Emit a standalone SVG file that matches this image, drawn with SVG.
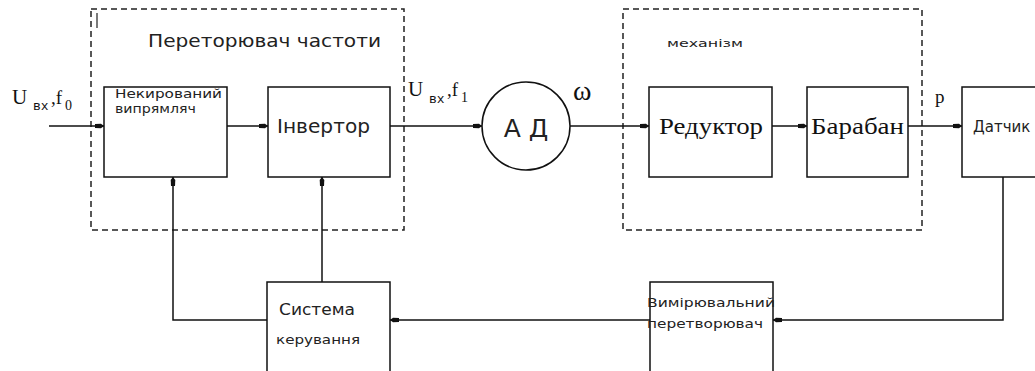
<svg xmlns="http://www.w3.org/2000/svg" width="1035" height="371" viewBox="0 0 1035 371">
  <style>
    .box { fill: #fff; stroke: #111; stroke-width: 1.5; }
    .frame { fill: none; stroke: #222; stroke-width: 1.5; stroke-dasharray: 6 4; }
    .wire { fill: none; stroke: #111; stroke-width: 1.5; }
    .sans { font-family: "DejaVu Sans", "Open Sans", sans-serif; fill: #222; }
    .serif { font-family: "Liberation Serif", "DejaVu Serif", serif; fill: #111; }
    .sub { font-family: "Liberation Mono", "DejaVu Sans Mono", monospace; fill: #111; font-size: 13px; }
  </style>
  <defs>
    <marker id="arrow" markerUnits="userSpaceOnUse" viewBox="-10 -4 11 8" refX="0" refY="0" markerWidth="11" markerHeight="8" orient="auto">
      <path d="M0,0 L-3,-2.3 L-9,-2 L-9,2 L-3,2.3 Z" fill="#111"/>
    </marker>
  </defs>

  <rect width="1035" height="371" fill="#fff"/>

  <!-- dashed frames -->
  <g id="frame-converter">
    <rect class="frame" x="91" y="9" width="313" height="221"/>
    <line x1="97" y1="13" x2="97" y2="28" stroke="#222" stroke-width="1.2"/>
    <text class="sans" x="148" y="47" font-size="17" textLength="233" lengthAdjust="spacingAndGlyphs">Переторювач частоти</text>
  </g>
  <g id="frame-mechanism">
    <rect class="frame" x="623" y="9" width="299" height="221"/>
    <text class="sans" x="667" y="47" font-size="11" textLength="76" lengthAdjust="spacingAndGlyphs">механізм</text>
  </g>

  <!-- connectors -->
  <g id="connectors">
    <line class="wire" x1="49" y1="126" x2="104" y2="126" marker-end="url(#arrow)"/>
    <line class="wire" x1="227" y1="126" x2="268" y2="126" marker-end="url(#arrow)"/>
    <line class="wire" x1="390" y1="126" x2="482" y2="126" marker-end="url(#arrow)"/>
    <line class="wire" x1="570" y1="126" x2="649" y2="126" marker-end="url(#arrow)"/>
    <line class="wire" x1="772" y1="126" x2="807" y2="126" marker-end="url(#arrow)"/>
    <line class="wire" x1="908" y1="126" x2="962" y2="126" marker-end="url(#arrow)"/>
    <polyline class="wire" points="1003,177 1003,320 773,320" marker-end="url(#arrow)"/>
    <line class="wire" x1="650" y1="320" x2="390" y2="320" marker-end="url(#arrow)"/>
    <polyline class="wire" points="267,320 173,320 173,177" marker-end="url(#arrow)"/>
    <line class="wire" x1="322" y1="282" x2="322" y2="177" marker-end="url(#arrow)"/>
  </g>

  <!-- signal labels -->
  <g id="labels">
    <text class="serif" x="12" y="104" font-size="21">U</text>
    <text class="sub" x="33" y="110">вх</text>
    <text class="serif" x="51" y="104" font-size="19">,f</text>
    <text class="serif" x="65" y="110" font-size="14">0</text>

    <text class="serif" x="408" y="96" font-size="21">U</text>
    <text class="sub" x="429" y="103">вх</text>
    <text class="serif" x="447" y="96" font-size="19">,f</text>
    <text class="serif" x="461" y="102" font-size="14">1</text>

    <text class="serif" x="573" y="100" font-size="28">ω</text>
    <text class="serif" x="935" y="103" font-size="19">p</text>
  </g>

  <g id="node-rectifier">
    <rect class="box" x="104" y="87" width="123" height="90"/>
    <text class="sans" x="115" y="98" font-size="13" textLength="107" lengthAdjust="spacingAndGlyphs">Некирований</text>
    <text class="sans" x="115" y="113" font-size="13" textLength="81" lengthAdjust="spacingAndGlyphs">випрямляч</text>
  </g>

  <g id="node-inverter">
    <rect class="box" x="268" y="87" width="122" height="90"/>
    <text class="sans" x="277" y="133" font-size="19" textLength="93" lengthAdjust="spacingAndGlyphs">Інвертор</text>
  </g>

  <g id="node-motor">
    <circle class="box" cx="526" cy="126" r="44"/>
    <text class="sans" x="526" y="137" font-size="25" text-anchor="middle">А Д</text>
  </g>

  <g id="node-reducer">
    <rect class="box" x="649" y="87" width="123" height="90"/>
    <text class="serif" x="659" y="134" font-size="24" textLength="104" lengthAdjust="spacingAndGlyphs">Редуктор</text>
  </g>

  <g id="node-drum">
    <rect class="box" x="807" y="87" width="101" height="90"/>
    <text class="serif" x="811" y="134" font-size="24" textLength="93" lengthAdjust="spacingAndGlyphs">Барабан</text>
  </g>

  <g id="node-sensor">
    <rect class="box" x="962" y="87" width="80" height="90"/>
    <text class="sans" x="973" y="132" font-size="15">Датчик</text>
  </g>

  <g id="node-transducer">
    <rect class="box" x="650" y="282" width="123" height="100"/>
    <text class="sans" x="647" y="307" font-size="13" textLength="128" lengthAdjust="spacingAndGlyphs">Вимірювальний</text>
    <text class="sans" x="647" y="328" font-size="13" textLength="116" lengthAdjust="spacingAndGlyphs">перетворювач</text>
  </g>

  <g id="node-control">
    <rect class="box" x="267" y="282" width="123" height="100"/>
    <text class="sans" x="279" y="315" font-size="15" textLength="76" lengthAdjust="spacingAndGlyphs">Система</text>
    <text class="sans" x="276" y="344" font-size="13" textLength="84" lengthAdjust="spacingAndGlyphs">керування</text>
  </g>
</svg>
